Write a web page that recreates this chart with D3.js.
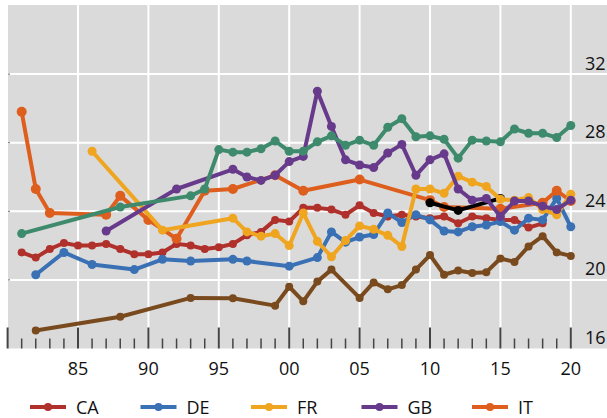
<!DOCTYPE html>
<html><head><meta charset="utf-8">
<script src="https://cdn.jsdelivr.net/npm/d3@7"></script>
<style>body{margin:0;background:#fff}svg{display:block;font-family:"Open Sans","Noto Sans",sans-serif}</style>
</head><body><svg id="c" width="607" height="418"></svg>
<script>
const yearsCA=[1981,1982,1983,1984,1985,1986,1987,1988,1989,1990,1991,1992,1993,1994,1995,1996,1997,1998,1999,2000,2001,2002,2003,2004,2005,2006,2007,2008,2009,2010,2011,2012,2013,2014,2015,2016,2017,2018];
const valsCA=[21.6,21.3,21.8,22.15,22.0,22.0,22.1,21.8,21.5,21.5,21.6,22.1,22.0,21.8,21.9,22.1,22.6,22.8,23.5,23.4,24.2,24.2,24.1,23.8,24.35,23.9,23.7,23.8,23.7,23.6,23.7,23.3,23.7,23.6,23.5,23.5,23.05,23.3];
const yearsDE=[1982,1984,1986,1989,1991,1993,1996,1997,2000,2002,2003,2004,2005,2006,2007,2008,2009,2010,2011,2012,2013,2014,2015,2016,2017,2018,2019,2020];
const valsDE=[20.3,21.6,20.9,20.6,21.2,21.1,21.2,21.1,20.8,21.3,22.8,22.2,22.5,22.65,23.9,23.35,23.8,23.5,22.85,22.8,23.1,23.2,23.4,22.9,23.6,23.5,24.75,23.1];
const yearsFR=[1986,1991,1996,1997,1998,1999,2000,2001,2002,2003,2004,2005,2006,2007,2008,2009,2010,2011,2012,2013,2014,2015,2016,2017,2018,2019,2020];
const valsFR=[27.5,22.9,23.6,22.8,22.55,22.7,22.0,23.9,22.25,21.35,22.3,23.15,22.95,22.6,21.95,25.3,25.3,25.05,26.05,25.7,25.45,24.7,24.65,24.8,24.1,23.8,25.0];
const yearsGB=[1987,1992,1996,1997,1998,1999,2000,2001,2002,2003,2004,2005,2006,2007,2008,2009,2010,2011,2012,2013,2014,2015,2016,2017,2018,2019,2020];
const valsGB=[22.85,25.3,26.45,26.0,25.8,26.1,26.9,27.2,31.0,28.95,27.0,26.7,26.55,27.4,27.9,26.1,27.0,27.35,25.3,24.65,24.75,23.7,24.6,24.6,24.3,24.1,24.65];
const yearsIT=[1981,1982,1983,1987,1988,1990,1992,1994,1996,1999,2001,2005,2010,2011,2015,2018,2019,2020];
const valsIT=[29.8,25.3,23.9,23.8,24.9,23.5,22.4,25.2,25.3,26.1,25.2,25.85,24.65,24.25,24.15,24.5,25.2,24.6];
const yearsJP=[1982,1988,1993,1996,1999,2000,2001,2002,2003,2005,2006,2007,2008,2009,2010,2011,2012,2013,2014,2015,2016,2017,2018,2019,2020];
const valsJP=[17.05,17.85,18.95,18.93,18.5,19.6,18.75,19.9,20.6,18.95,19.85,19.45,19.7,20.6,21.45,20.3,20.55,20.4,20.45,21.25,21.05,21.95,22.55,21.6,21.4];
const yearsUS=[1981,1988,1993,1994,1995,1996,1997,1998,1999,2000,2001,2002,2003,2004,2005,2006,2007,2008,2009,2010,2011,2012,2013,2014,2015,2016,2017,2018,2019,2020];
const valsUS=[22.7,24.25,24.9,25.3,27.6,27.45,27.45,27.65,28.1,27.5,27.5,28.05,28.4,27.85,28.15,27.85,28.9,29.4,28.35,28.4,28.2,27.1,28.15,28.1,28.05,28.8,28.55,28.55,28.3,29.0];
const yearsX=[2010,2012,2015];
const valsX=[24.5,24.05,24.75];
const xTicks=[1985,1990,1995,2000,2005,2010,2015,2020];
const xTickLabels=["85","90","95","00","05","10","15","20"];
const yTicks=[16,20,24,28,32];
const legendNames=["CA","DE","FR","GB","IT"];

const series=[
 {name:"CA",years:yearsCA,vals:valsCA,color:"#b0302b",r:4},
 {name:"DE",years:yearsDE,vals:valsDE,color:"#3a70b4",r:4.5},
 {name:"IT",years:yearsIT,vals:valsIT,color:"#de5e1e",r:5},
 {name:"X",years:yearsX,vals:valsX,color:"#000000",r:4.5},
 {name:"FR",years:yearsFR,vals:valsFR,color:"#efa51f",r:4.5},
 {name:"GB",years:yearsGB,vals:valsGB,color:"#673a8b",r:4.5},
 {name:"JP",years:yearsJP,vals:valsJP,color:"#7a4a1f",r:4},
 {name:"US",years:yearsUS,vals:valsUS,color:"#3e8a6d",r:4.5}
];

const svg=d3.select("#c");
const x=d3.scaleLinear().domain([1980,2020]).range([7.6,570.8]);
const y=d3.scaleLinear().domain([16,32]).range([348.5,74.1]);
const pTop=5,pBottom=348.5,pLeft=8,pRight=607;

svg.append("rect").attr("x",pLeft).attr("y",pTop).attr("width",pRight-pLeft).attr("height",pBottom-pTop).attr("fill","#dadada");
svg.append("g").selectAll("line").data(yTicks.filter(d=>d>16)).join("line")
 .attr("x1",pLeft).attr("x2",pRight).attr("y1",d=>y(d)).attr("y2",d=>y(d)).attr("stroke","#fff").attr("stroke-width",2);
svg.append("g").selectAll("line").data(xTicks).join("line")
 .attr("x1",d=>x(d)).attr("x2",d=>x(d)).attr("y1",pTop).attr("y2",pBottom).attr("stroke","#fff").attr("stroke-width",2);
const allYears=d3.range(1980,2021);
svg.append("g").selectAll("line").data(allYears).join("line")
 .attr("x1",d=>x(d)).attr("x2",d=>x(d)).attr("y1",d=>d%5===0?pBottom-21:pBottom-10).attr("y2",pBottom)
 .attr("stroke","#444").attr("stroke-width",d=>d%5===0?2:1.5);
svg.append("g").selectAll("line").data(yTicks.filter(d=>d>16)).join("line")
 .attr("x1",pLeft).attr("x2",pLeft+2).attr("y1",d=>y(d)).attr("y2",d=>y(d)).attr("stroke","#666").attr("stroke-width",1);

const line=d3.line().x(d=>x(d[0])).y(d=>y(d[1]));
series.forEach(s=>{
 const pts=s.years.map((yr,i)=>[yr,s.vals[i]]);
 const g=svg.append("g");
 g.append("path").datum(pts).attr("d",line).attr("fill","none").attr("stroke",s.color).attr("stroke-width",4).attr("stroke-linejoin","round");
 g.selectAll("circle").data(pts).join("circle").attr("cx",d=>x(d[0])).attr("cy",d=>y(d[1])).attr("r",s.r).attr("fill",s.color);
});

svg.append("g").selectAll("text").data(xTicks).join("text")
 .attr("x",d=>x(d)).attr("y",368).attr("text-anchor","middle").attr("dominant-baseline","central")
 .attr("font-size",18).attr("fill","#111").text((d,i)=>xTickLabels[i]);
svg.append("g").selectAll("text").data(yTicks).join("text")
 .attr("x",585).attr("y",d=>y(d)-11.5).attr("dominant-baseline","central")
 .attr("font-size",18).attr("fill","#111").text(d=>d);

const lg=svg.append("g");
legendNames.forEach((n,i)=>{
 const s=series.find(t=>t.name===n);
 const x0=30+i*110.5;
 lg.append("line").attr("x1",x0).attr("x2",x0+36).attr("y1",407).attr("y2",407).attr("stroke",s.color).attr("stroke-width",4);
 lg.append("circle").attr("cx",x0+18).attr("cy",407).attr("r",4).attr("fill",s.color);
 lg.append("text").attr("x",x0+46).attr("y",407).attr("dominant-baseline","central").attr("font-size",18).attr("fill","#111").text(n);
});
</script></body></html>
